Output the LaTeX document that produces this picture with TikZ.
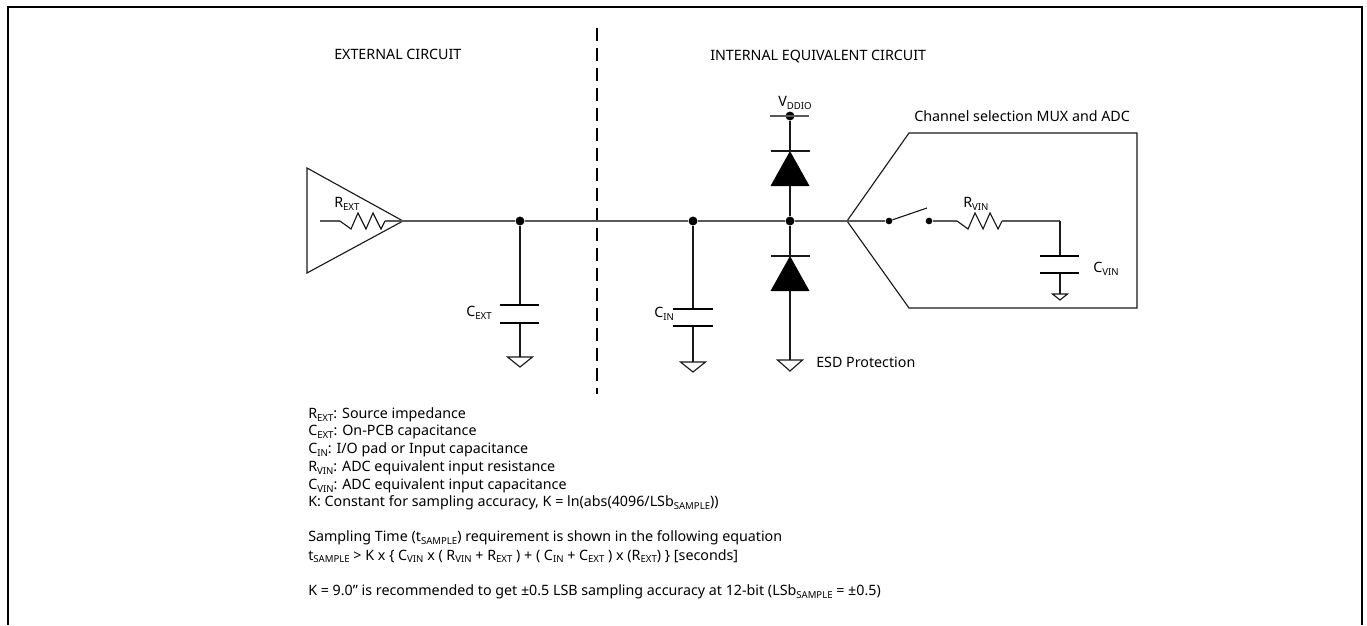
\documentclass[tikz,border=0pt]{standalone}
\usepackage{fontspec}
\setmainfont{Noto Sans}
\usepackage{tikz}
\usetikzlibrary{positioning}
\tikzset{
wire/.style={line width=.85pt,black!90},
bus/.style={line width=1pt,black!65},
plate/.style={line width=1.3pt,black},
frame/.style={line width=2pt},
sep/.style={line width=2pt,dash pattern=on 10pt off 5pt},
dot/.style={circle,fill=black,inner sep=0pt,minimum size=6.7pt},
lbl/.style={inner sep=0pt,anchor=west,font=\fontsize{10.7pt}{12pt}\selectfont},
}
\newcommand{\lo}[1]{\raisebox{-.35ex}{\fontsize{7.2pt}{8pt}\selectfont #1}}
\newcommand{\gnd}[3]{\draw[wire,line join=miter] (#1) ++(-#2,0) -- ++(2*#2,0) -- ++(-#2,#3) -- cycle;}
\newcommand{\diode}[1]{\fill (#1) -- ++(19.5,35) -- ++(-39,0) -- cycle;\draw[wire] (#1) ++(-19.5,0) -- ++(39,0);}
\newcommand{\zig}[2]{\draw[wire] (#1) -- ++(11,8) -- ++(7,-16) -- ++(8,16) -- ++(7,-16) -- ++(8,16) -- (#2);}
\begin{document}
\begin{tikzpicture}[x=.75pt,y=-.75pt]
\useasboundingbox (0,0) rectangle (1367,625);
\draw[frame] (8,625) -- (8,7) -- (1362,7) -- (1362,625);
\coordinate (sepT) at (597,28);
\coordinate (sepB) at (597,394);
\draw[sep] (sepT) -- (sepB);
% source
\coordinate (srcA) at (307,168);
\coordinate (srcB) at (307,273);
\coordinate (srcTip) at (403,221);
\coordinate (Rin) at (320,221);
\coordinate (R1) at (340,221);
\coordinate (R2) at (385,221);
\draw[wire] (srcA) -- (srcTip) -- (srcB) -- cycle;
\draw[bus] (Rin) -- (R1);
\zig{R1}{R2}
\draw[bus] (R2) -- (srcTip);
% external cap
\node at (520,221)[dot] (Jext) {};
\coordinate (CextA) at (520,305);
\coordinate (CextB) at (520,323);
\coordinate (Gext) at (520,357);
\draw[wire] (Jext) -- (CextA);
\draw[wire] (CextB) -- (Gext);
\draw[plate] (500,305) -- (539,305);
\draw[plate] (500,323) -- (539,323);
\gnd{Gext}{12.5}{10}
% input cap
\node at (693,221)[dot] (Jin) {};
\coordinate (CinA) at (693,309);
\coordinate (CinB) at (693,326);
\coordinate (Gin) at (693,362);
\draw[wire] (Jin) -- (CinA);
\draw[wire] (CinB) -- (Gin);
\draw[plate] (673,309) -- (713,309);
\draw[plate] (673,326) -- (713,326);
\gnd{Gin}{12.5}{10}
% esd
\node at (790,116)[dot] (Vdd) {};
\node at (790,221)[dot] (Jesd) {};
\coordinate (D1) at (790,151);
\coordinate (D2) at (790,256);
\coordinate (Gesd) at (790,360);
\draw[bus] (770,116) -- (809,116);
\draw[wire] (Vdd) -- (D1);
\diode{D1}
\draw[wire] (790,186) -- (Jesd);
\draw[wire] (Jesd) -- (D2);
\diode{D2}
\draw[wire] (790,291) -- (Gesd);
\gnd{Gesd}{12.5}{11}
% mux
\coordinate (muxTip) at (847,221);
\coordinate (muxA) at (909,133);
\coordinate (muxB) at (1137,133);
\coordinate (muxC) at (1137,308);
\coordinate (muxD) at (909,308);
\draw[wire] (muxTip) -- (muxA) -- (muxB) -- (muxC) -- (muxD) -- cycle;
\draw[bus] (srcTip) -- (Jext);
\draw[bus] (Jext) -- (Jin);
\draw[bus] (Jin) -- (Jesd);
\draw[bus] (Jesd) -- (muxTip);
\node at (889,221)[dot,minimum size=5pt] (SwA) {};
\node at (929,221)[dot,minimum size=5pt] (SwB) {};
\coordinate (SwT) at (927,208);
\draw[bus] (muxTip) -- (SwA);
\draw[wire] (SwA) -- (SwT);
\coordinate (R3) at (957,221);
\coordinate (R4) at (1002,221);
\coordinate (Rc) at (1060,221);
\coordinate (CvinA) at (1060,256);
\coordinate (CvinB) at (1060,273);
\coordinate (Gvin) at (1060,294);
\draw[bus] (SwB) -- (R3);
\zig{R3}{R4}
\draw[bus] (R4) -- (Rc);
\draw[wire] (Rc) -- (CvinA);
\draw[wire] (CvinB) -- (Gvin);
\draw[plate] (1040,256) -- (1079,256);
\draw[plate] (1040,273) -- (1079,273);
\gnd{Gvin}{7.5}{6}
% labels
\node at (334,54)[lbl] (lext) {EXTERNAL CIRCUIT};
\node at (710,57)[lbl] (lint) {INTERNAL EQUIVALENT CIRCUIT};
\node at (914,116)[lbl] (lmux) {Channel selection MUX and ADC};
\node at (816,362)[lbl] (lesd) {ESD Protection};
\node at (778,103)[lbl] (lvdd) {V\lo{DDIO}};
\node at (963,204)[lbl] (lrvin) {R\lo{VIN}};
\node at (1093,269)[lbl] (lcvin) {C\lo{VIN}};
\node at (466,313)[lbl] (lcext) {C\lo{EXT}};
\node at (654,314)[lbl] (lcin) {C\lo{IN}};
\node at (334,204)[lbl] (lrext) {R\lo{EXT}};
% notes
\node at (308,415)[lbl] (n1) {R\lo{EXT}: Source impedance};
\node at (308,432)[lbl] (n2) {C\lo{EXT}: On-PCB capacitance};
\node at (308,450)[lbl] (n3) {C\lo{IN}: I/O pad or Input capacitance};
\node at (308,468)[lbl] (n4) {R\lo{VIN}: ADC equivalent input resistance};
\node at (308,486)[lbl] (n5) {C\lo{VIN}: ADC equivalent input capacitance};
\node at (308,503)[lbl] (n6) {K: Constant for sampling accuracy, K = ln(abs(4096/LSb\lo{SAMPLE}))};
\node at (308,538)[lbl] (n7) {Sampling Time (t\lo{SAMPLE}) requirement is shown in the following equation};
\node at (308,556)[lbl] (n8) {t\lo{SAMPLE} > K x \{ C\lo{VIN} x ( R\lo{VIN} + R\lo{EXT} ) + ( C\lo{IN} + C\lo{EXT} ) x (R\lo{EXT}) \} [seconds]};
\node at (308,592)[lbl] (n9) {K = 9.0" is recommended to get ±0.5 LSB sampling accuracy at 12-bit (LSb\lo{SAMPLE} = ±0.5)};
\end{tikzpicture}
\end{document}
